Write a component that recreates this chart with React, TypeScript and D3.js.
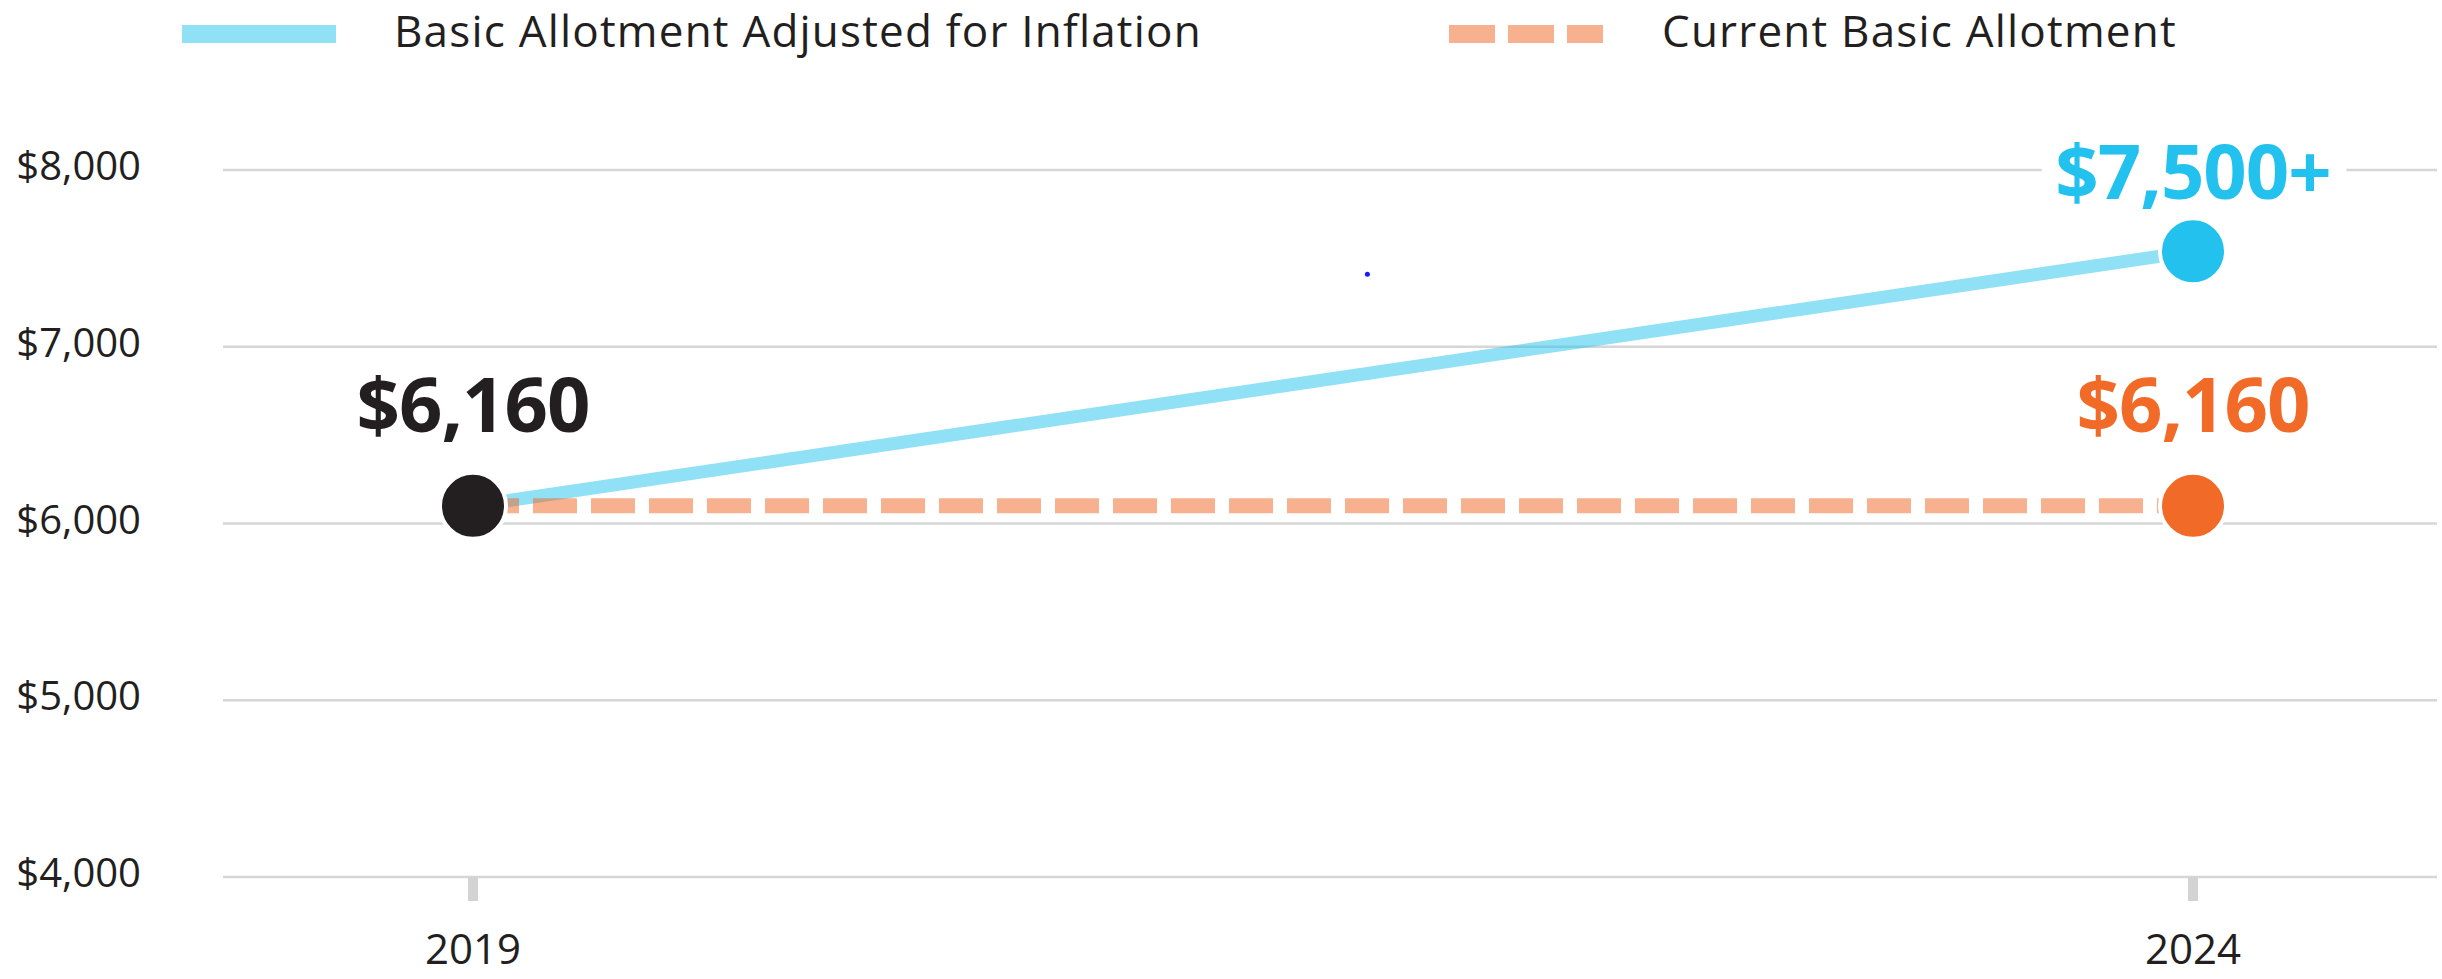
import React from 'react';
import * as d3 from 'd3';

// chart values
const years = [2019, 2024];
const adjustedForInflation = [6100, 7540];
const currentAllotment = [6100, 6100];
const yTicks = [4000, 5000, 6000, 7000, 8000];

const markerYears = [2019, 2024, 2024];
const markerValues = [6100, 7540, 6100];
const markerLabels = ['$6,160', '$7,500+', '$6,160'];

const legendLabels = ['Basic Allotment Adjusted for Inflation', 'Current Basic Allotment'];

// stray dot in the original artwork
const strayDot = { year: 2021.6, value: 7410 };

const width = 2442;
const height = 979;
const font = "'Open Sans', sans-serif";

const blue = '#22c1ee';
const orange = '#f26a27';
const black = '#231f20';
const markerColors = [black, blue, orange];
const labelOffsets = [74, 52, 74];

const grid = { left: 223, right: 2437 };

const App: React.FC = () => {
  const x = d3.scaleLinear().domain([2019, 2024]).range([473, 2193]);
  const y = d3.scaleLinear().domain([4000, 8000]).range([877, 170]);

  const line = d3.line<number>()
    .x((_, i) => x(years[i]))
    .y(d => y(d));

  const fmt = (v: number) => '$' + d3.format(',')(v);

  return (
    <svg width={width} height={height} style={{ position: 'absolute', left: 0, top: 0, background: '#fff' }}>
      {/* legend */}
      <g fontFamily={font} fontSize={44} fill="#231f20" letterSpacing={1.2}>
        <line x1={182} x2={336} y1={34} y2={34} stroke={blue} strokeOpacity={0.5} strokeWidth={18} />
        <text x={394} y={47}>{legendLabels[0]}</text>
        <line x1={1449} x2={1603} y1={34} y2={34} stroke={orange} strokeOpacity={0.52} strokeWidth={18} strokeDasharray="46 13" />
        <text x={1662} y={47}>{legendLabels[1]}</text>
      </g>

      {/* gridlines and y labels */}
      {yTicks.map(t => (
        <g key={t}>
          <line x1={grid.left} x2={grid.right} y1={y(t)} y2={y(t)} stroke="#d6d6d6" strokeWidth={2.5} />
          <text x={141} y={y(t) + 10} textAnchor="end" fontFamily={font} fontSize={40} fill="#231f20">{fmt(t)}</text>
        </g>
      ))}

      {/* x ticks */}
      {years.map(yr => (
        <g key={yr}>
          <line x1={x(yr)} x2={x(yr)} y1={y(4000)} y2={y(4000) + 24} stroke="#d3d3d3" strokeWidth={10} />
          <text x={x(yr)} y={964} textAnchor="middle" fontFamily={font} fontSize={42} fill="#231f20">{yr}</text>
        </g>
      ))}

      {/* series */}
      <path d={line(adjustedForInflation) || ''} fill="none" stroke={blue} strokeOpacity={0.5} strokeWidth={13} />
      <path d={line(currentAllotment) || ''} fill="none" stroke={orange} strokeOpacity={0.52} strokeWidth={15} strokeDasharray="44 14" strokeDashoffset={-2} />

      <circle cx={x(strayDot.year)} cy={y(strayDot.value)} r={2.5} fill="#1a1aff" />

      {/* end markers */}
      {markerValues.map((v, i) => (
        <circle key={i} cx={x(markerYears[i])} cy={y(v)} r={33} fill={markerColors[i]} stroke="#fff" strokeWidth={4} />
      ))}
      {markerValues.map((v, i) => (
        <text
          key={'l' + i}
          x={x(markerYears[i])}
          y={y(v) - labelOffsets[i]}
          textAnchor="middle"
          fontFamily={font}
          fontWeight={700}
          fontSize={76}
          letterSpacing={-1}
          fill={markerColors[i]}
          stroke="#fff"
          strokeWidth={36}
          strokeLinejoin="round"
          paintOrder="stroke"
        >
          {markerLabels[i]}
        </text>
      ))}
    </svg>
  );
};

export default App;
